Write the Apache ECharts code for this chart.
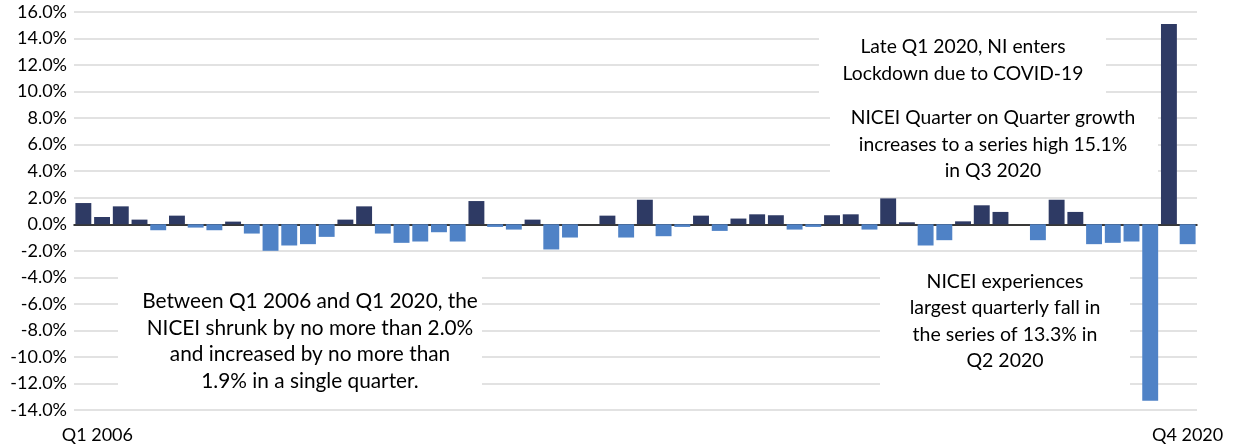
<!DOCTYPE html>
<html>
<head>
<meta charset="utf-8">
<script src="https://cdn.jsdelivr.net/npm/echarts@6/dist/echarts.min.js"></script>
<style>
  html, body { margin: 0; padding: 0; background: #fff; }
  #chart { width: 1235px; height: 447px; }
</style>
</head>
<body>
<div id="chart"></div>
<script>
// quarters Q1 2006 .. Q4 2020
var quarters = [];
for (var yr = 2006; yr <= 2020; yr++) {
  for (var q = 1; q <= 4; q++) quarters.push('Q' + q + ' ' + yr);
}

// NICEI quarter on quarter change (%)
var growth = [
  1.6, 0.55, 1.35, 0.35, -0.45, 0.65, -0.25, -0.45, 0.2, -0.7,
  -2.0, -1.6, -1.5, -0.95, 0.35, 1.35, -0.7, -1.4, -1.3, -0.6,
  -1.3, 1.75, -0.2, -0.4, 0.35, -1.9, -1.0, 0.0, 0.65, -1.0,
  1.85, -0.9, -0.2, 0.65, -0.5, 0.43, 0.75, 0.68, -0.4, -0.2,
  0.68, 0.75, -0.4, 1.95, 0.15, -1.6, -1.2, 0.22, 1.43, 0.93,
  0.0, -1.2, 1.85, 0.93, -1.5, -1.4, -1.3, -13.3, 15.1, -1.5
];

var yMin = -14, yMax = 16, yStep = 2;

var notes = [
  { lines: ['Late Q1 2020, NI enters', 'Lockdown due to COVID-19'], cx: 963, top: 34, size: 19.3, lh: 26.5, box: [819, 26, 287, 74] },
  { lines: ['NICEI Quarter on Quarter growth', 'increases to a series high 15.1%', 'in Q3 2020'], cx: 993, top: 105, size: 19.3, lh: 26.5, box: [830, 106, 328, 76] },
  { lines: ['Between Q1 2006 and Q1 2020, the', 'NICEI shrunk by no more than 2.0%', 'and increased by no more than', '1.9% in a single quarter.'], cx: 310, top: 288, size: 20.8, lh: 26.7, box: [118, 266, 364, 130] },
  { lines: ['NICEI experiences', 'largest quarterly fall in', 'the series of 13.3% in', 'Q2 2020'], cx: 1005, top: 268, size: 19.5, lh: 26.5, box: [880, 266, 250, 130] }
];

var font = 'Lato, "Open Sans", sans-serif';
var chart = echarts.init(document.getElementById('chart'));

var graphics = [];
notes.forEach(function (n) {
  graphics.push({
    type: 'rect', z: 100, silent: true,
    shape: { x: n.box[0], y: n.box[1], width: n.box[2], height: n.box[3] },
    style: { fill: '#fff' }
  });
  graphics.push({
    type: 'text', z: 101, silent: true,
    x: n.cx, y: n.top,
    style: {
      text: n.lines.join('\n'),
      font: n.size + 'px ' + font,
      fill: '#000',
      textAlign: 'center',
      textVerticalAlign: 'top',
      lineHeight: n.lh
    }
  });
});

chart.setOption({
  animation: false,
  textStyle: { fontFamily: font },
  grid: { left: 74, right: 38, top: 12, bottom: 37 },
  xAxis: [
    {
      type: 'category',
      data: quarters,
      axisLine: { onZero: true, lineStyle: { color: '#000', width: 1.5 } },
      axisTick: { show: false },
      axisLabel: { show: false }
    },
    {
      type: 'category',
      data: quarters,
      position: 'bottom',
      axisLine: { show: false },
      axisTick: { show: false },
      axisLabel: {
        margin: 16,
        fontSize: 18,
        color: '#000',
        interval: function (i) { return i === 0 || i === quarters.length - 1; },
        formatter: function (v, i) { return i === 0 ? '{a|' + v + '}' : v; },
        rich: { a: { fontSize: 18, color: '#000', padding: [0, 0, 0, 28] } }
      }
    }
  ],
  yAxis: {
    type: 'value',
    min: yMin,
    max: yMax,
    interval: yStep,
    axisLine: { show: false },
    axisTick: { show: false },
    axisLabel: {
      fontSize: 18,
      color: '#000',
      margin: 7,
      formatter: function (v) { return v.toFixed(1) + '%'; }
    },
    splitLine: { lineStyle: { color: '#d9d9d9', width: 1.5 } }
  },
  series: [{
    type: 'bar',
    xAxisIndex: 0,
    data: growth,
    barWidth: '85%',
    itemStyle: {
      color: function (p) { return p.value >= 0 ? '#2e3a64' : '#4f82c6'; }
    }
  }],
  graphic: graphics
});
</script>
</body>
</html>
